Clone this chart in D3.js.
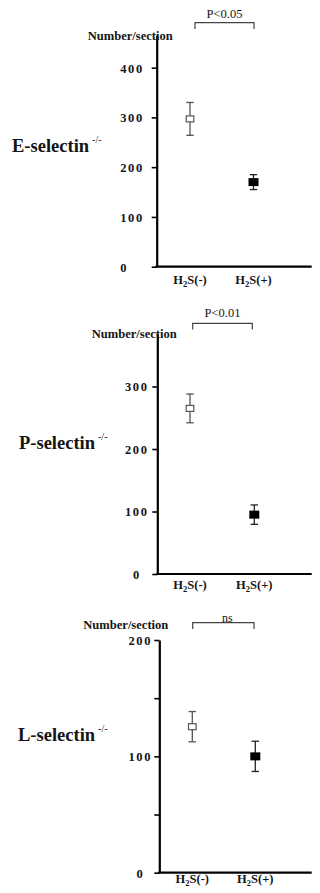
<!DOCTYPE html>
<html>
<head>
<meta charset="utf-8">
<script src="https://cdn.jsdelivr.net/npm/d3@7"></script>
<style>
  html, body { margin: 0; padding: 0; background: #fff; }
  svg { display: block; }
  text { font-family: "Liberation Serif", "Times New Roman", serif; fill: #151515; }
</style>
</head>
<body>
<svg id="chart" width="320" height="893"></svg>
<script>
// ---- data ----
const categories = ["H2S(-)", "H2S(+)"];
const panelTitles = ["E-selectin", "P-selectin", "L-selectin"];
const yAxisTitle = "Number/section";
const sigLabels = ["P<0.05", "P<0.01", "ns"];

const eMeans = [297, 170];
const eErrors = [33, 15];
const pMeans = [265, 95];
const pErrors = [23, 15.5];
const lMeans = [125.5, 100];
const lErrors = [13, 13];

const eTicks = [0, 100, 200, 300, 400];
const eTickLabels = ["0", "100", "200", "300", "400"];
const pTicks = [0, 100, 200, 300];
const pTickLabels = ["0", "100", "200", "300"];
const lTicks = [0, 50, 100, 150, 200];
const lTickLabels = ["0", "", "100", "", "200"];

const yMaxValues = [465, 385, 200];

// ---- layout (positions / styles only) ----
const layout = [
  { axisX: 156.7, y0: 266.7, yTop: 35.3, xRange: [190, 253.5], xEnd: 311.7,
    tickAnchor: "start", tickX: -36.5, titleX: 12, titleY: 151.7, supY: 143,
    nsX: 87.7, nsY: 40, sigY: 18.3, brY: 22.7, brX: [195, 254], xLabY: 284 },
  { axisX: 157.3, y0: 574, yTop: 333.4, xRange: [190, 254.3], xEnd: 311.7,
    tickAnchor: "middle", tickX: -20.5, titleX: 19, titleY: 449, supY: 440,
    nsX: 91.7, nsY: 337.7, sigY: 316.7, brY: 323.3, brX: [192.7, 252.3], xLabY: 589 },
  { axisX: 159.3, y0: 872.7, yTop: 640, xRange: [192.3, 255.3], xEnd: 311.7,
    tickAnchor: "middle", tickX: -19, titleX: 18, titleY: 740.7, supY: 732,
    nsX: 83.3, nsY: 629, sigY: 622.3, brY: 622.7, brX: [192.7, 254], xLabY: 883.3 }
];

const panels = [
  { title: panelTitles[0], means: eMeans, errs: eErrors, ticks: eTicks, tickLabels: eTickLabels, yMax: yMaxValues[0], sig: sigLabels[0] },
  { title: panelTitles[1], means: pMeans, errs: pErrors, ticks: pTicks, tickLabels: pTickLabels, yMax: yMaxValues[1], sig: sigLabels[1] },
  { title: panelTitles[2], means: lMeans, errs: lErrors, ticks: lTicks, tickLabels: lTickLabels, yMax: yMaxValues[2], sig: sigLabels[2] }
];

const svg = d3.select("#chart");

panels.forEach((p, i) => {
  const L = layout[i];
  const g = svg.append("g");
  const y = d3.scaleLinear().domain([0, p.yMax]).range([L.y0, L.yTop]);
  const x = d3.scalePoint().domain(categories).range(L.xRange).padding(0);

  // y axis
  const yAxis = d3.axisLeft(y)
    .tickValues(p.ticks)
    .tickSize(5)
    .tickSizeOuter(0)
    .tickFormat((d, k) => p.tickLabels[k]);
  const ya = g.append("g").attr("transform", `translate(${L.axisX},0)`).call(yAxis);
  ya.select(".domain").attr("stroke", "#000").attr("stroke-width", 2.2);
  ya.selectAll(".tick line").attr("stroke", "#000").attr("stroke-width", 1.6);
  ya.selectAll(".tick text")
    .attr("x", L.tickX)
    .attr("dy", "0.35em")
    .attr("text-anchor", L.tickAnchor)
    .style("font-family", "'Liberation Serif', serif")
    .style("font-weight", "bold")
    .style("font-size", "12.5px")
    .style("letter-spacing", "1.6px")
    .attr("fill", "#1a1a1a");

  // x axis line
  g.append("line")
    .attr("x1", L.axisX - 1.1).attr("x2", L.xEnd)
    .attr("y1", y(0)).attr("y2", y(0))
    .attr("stroke", "#000").attr("stroke-width", 2.2);

  // x labels with subscript
  categories.forEach(c => {
    const t = g.append("text")
      .attr("x", x(c)).attr("y", L.xLabY)
      .attr("text-anchor", "middle")
      .style("font-weight", "bold")
      .style("font-size", "12.5px");
    const m = c.match(/^H2S(.*)$/);
    t.append("tspan").text("H");
    t.append("tspan").attr("dy", 2.5).style("font-size", "8.5px").text("2");
    t.append("tspan").attr("dy", -2.5).text("S" + m[1]);
  });

  // y title
  g.append("text")
    .attr("x", L.nsX).attr("y", L.nsY)
    .attr("textLength", 85).attr("lengthAdjust", "spacingAndGlyphs")
    .style("font-weight", "bold").style("font-size", "12px")
    .text(yAxisTitle);

  // panel title
  const tt = g.append("text")
    .attr("x", L.titleX).attr("y", L.titleY)
    .style("font-weight", "bold").style("font-size", "18.5px")
    .attr("fill", "#000")
    .text(p.title);
  const tw = tt.node().getComputedTextLength();
  g.append("text")
    .attr("x", L.titleX + tw + 3).attr("y", L.supY)
    .style("font-size", "10px")
    .attr("fill", "#000")
    .text("-/-");

  // significance bracket
  const br = d3.path();
  br.moveTo(L.brX[0], L.brY + 6.3);
  br.lineTo(L.brX[0], L.brY);
  br.lineTo(L.brX[1], L.brY);
  br.lineTo(L.brX[1], L.brY + 6.3);
  g.append("path").attr("d", br.toString())
    .attr("fill", "none").attr("stroke", "#444").attr("stroke-width", 1.2);
  g.append("text")
    .attr("x", (L.brX[0] + L.brX[1]) / 2 + (i === 2 ? 4 : 0))
    .attr("y", L.sigY)
    .attr("text-anchor", "middle")
    .style("font-size", i === 2 ? "12px" : "12.5px")
    .text(p.sig);

  // error bars + markers
  categories.forEach((c, k) => {
    const cx = x(c);
    const m = p.means[k], e = p.errs[k];
    const eg = g.append("g");
    const col = k === 0 ? "#555" : "#222";
    eg.append("line").attr("x1", cx).attr("x2", cx)
      .attr("y1", y(m + e)).attr("y2", y(m - e))
      .attr("stroke", col).attr("stroke-width", 1.3);
    [m + e, m - e].forEach(v => {
      eg.append("line").attr("x1", cx - 3.7).attr("x2", cx + 3.7)
        .attr("y1", y(v)).attr("y2", y(v))
        .attr("stroke", col).attr("stroke-width", 1.3);
    });
    if (k === 0) {
      eg.append("rect")
        .attr("x", cx - 3.8).attr("y", y(m) - 3)
        .attr("width", 7.6).attr("height", 6)
        .attr("fill", "#fff").attr("stroke", "#555").attr("stroke-width", 1.2);
    } else {
      eg.append("rect")
        .attr("x", cx - 5).attr("y", y(m) - 4)
        .attr("width", 10).attr("height", 8)
        .attr("fill", "#000");
    }
  });
});
</script>
</body>
</html>
